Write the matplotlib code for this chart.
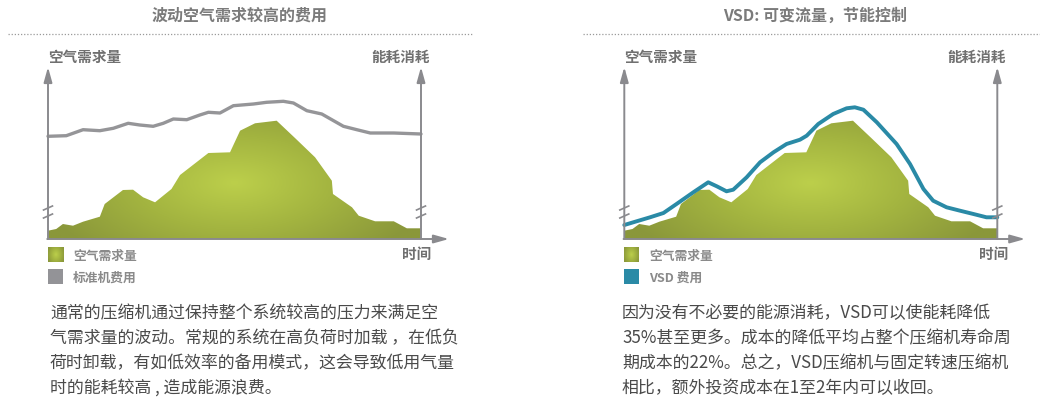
"""Two-panel comparison: fixed-speed vs VSD compressor energy use."""
import matplotlib

matplotlib.use("Agg")
import matplotlib.pyplot as plt
import numpy as np
from matplotlib.colors import LinearSegmentedColormap
from matplotlib.patches import Polygon

plt.rcParams["font.family"] = ["Noto Sans CJK SC", "DejaVu Sans"]

W, H = 1040, 402

# air demand profile (x: 0..100 across the axis, y: height above baseline)
demand_x = [0, 2.2, 4.0, 6.7, 9.4, 13.9, 15.2, 20.1, 22.8, 25.5, 28.7, 33.1, 35.4,
            43.0, 48.8, 51.5, 55.5, 61.3, 66.3, 71.6, 76.1, 76.4, 81.5, 83.3,
            87.7, 92.7, 96.2, 100]
demand_y = [8.3, 10, 15, 13.3, 17.3, 22.3, 35, 49, 49.3, 41.7, 36.7, 50, 64,
            86, 86.7, 108.3, 115.7, 118.3, 100.7, 81.7, 58.3, 45, 31.7, 23.3,
            17.7, 17.7, 10.7, 10.7]

# standard (load/unload) compressor energy
std_x = [0, 4.9, 9.4, 13.9, 17.5, 21.5, 24.6, 28.2, 30.9, 33.6, 37.2, 40.7, 43.0,
         46.1, 49.7, 55.1, 58.6, 63.1, 65.8, 69.4, 73.4, 79.2, 82.8, 86.4, 92.7, 100]
std_y = [102.7, 103.3, 109.3, 108.3, 110.7, 115.7, 114, 112.7, 115.7, 120, 119.3,
         124, 126.7, 126, 133.3, 135, 136.7, 137.7, 136, 128.3, 125, 112.7, 109.3,
         106, 106, 105]

# VSD compressor energy
vsd_x = [0, 3.3, 6.9, 10.5, 14.0, 18.5, 22.5, 24.8, 27.4, 29.2, 32.8, 36.4, 40.0,
         43.5, 47.1, 48.9, 52.0, 56.0, 59.6, 61.8, 64.1, 67.7, 73.0, 76.6, 80.2,
         82.8, 86.4, 90.0, 93.6, 97.1, 100]
vsd_y = [14, 17.7, 21.7, 26, 35, 46.7, 56.7, 52.7, 47.7, 49.3, 61.7, 76.7, 86.7,
         95, 99.3, 103.3, 115, 125, 130.7, 131.7, 129.3, 116.7, 95, 75, 50, 38.3,
         31.7, 28.3, 25, 21.7, 21.7]

titles = ["波动空气需求较高的费用", "VSD: 可变流量，节能控制"]
legend_2 = ["标准机费用", "VSD 费用"]
paragraphs = [
    ["通常的压缩机通过保持整个系统较高的压力来满足空",
     "气需求量的波动。常规的系统在高负荷时加载 ，在低负",
     "荷时卸载，有如低效率的备用模式，这会导致低用气量",
     "时的能耗较高 , 造成能源浪费。"],
    ["因为没有不必要的能源消耗，VSD可以使能耗降低",
     "35%甚至更多。成本的降低平均占整个压缩机寿命周",
     "期成本的22%。总之，VSD压缩机与固定转速压缩机",
     "相比，额外投资成本在1至2年内可以收回。"],
]

AXIS_C = "#8a8a8e"
GREEN = LinearSegmentedColormap.from_list("g", ["#bccf4b", "#a3b440", "#8a973a"])

fig = plt.figure(figsize=(W / 100, H / 100), dpi=100)


def ftext(x, y, s, **kw):
    """Text placed in pixel coords (origin top-left)."""
    fig.text(x / W, 1 - y / H, s, **kw)


def radial(nx=200, ny=120, cx=0.5, cy=0.45):
    xx, yy = np.meshgrid(np.linspace(0, 1, nx), np.linspace(0, 1, ny))
    return np.hypot((xx - cx) * 1.4, (yy - cy) * 1.0)


def panel(x0, line_x, line_y, line_c, line_w):
    sx = 3.73  # px per x unit
    xl, xr = -4, 110
    yb, yt = -6, 178
    left = x0 + xl * sx
    ax = fig.add_axes([left / W, (H - 240 + yb) / H, (xr - xl) * sx / W, (yt - yb) / H])
    ax.set_xlim(xl, xr)
    ax.set_ylim(yb, yt)
    ax.axis("off")

    poly = Polygon(list(zip([0] + demand_x + [100], [0] + demand_y + [0])),
                   closed=True, facecolor="none", edgecolor="none")
    ax.add_patch(poly)
    im = ax.imshow(radial(), cmap=GREEN, extent=(0, 100, 0, 125), origin="lower",
                   aspect="auto", vmin=0, vmax=0.75, zorder=1)
    im.set_clip_path(poly)

    ax.plot(line_x, line_y, color=line_c, lw=line_w, solid_joinstyle="round",
            solid_capstyle="round", zorder=3)

    arrow = dict(arrowstyle="-|>,head_length=0.9,head_width=0.25", color=AXIS_C, lw=1.4,
                 shrinkA=0, shrinkB=0)
    ax.annotate("", xy=(0, 172), xytext=(0, 0), arrowprops=arrow, zorder=4)
    ax.annotate("", xy=(100, 172), xytext=(100, 0), arrowprops=arrow, zorder=4)
    ax.annotate("", xy=(107.5, 0), xytext=(-0.2, 0), arrowprops=arrow, zorder=4)

    # axis break marks
    for xb in (0, 100):
        for yb_ in (23, 31):
            ax.plot([xb - 1.2, xb + 1.2], [yb_ - 2, yb_ + 2], color=AXIS_C, lw=1.2, zorder=5)
    return ax


panel(48, std_x, std_y, "#959598", 2.4)
panel(624.3, vsd_x, vsd_y, "#2a8aa6", 2.8)

# titles and dotted separators
for cx, t, (l, r) in zip([240, 815], titles, [(8, 472), (583, 1040)]):
    ftext(cx, 16, t, ha="center", va="center", fontsize=11.5, style="italic",
          color="#7b7b7b", fontweight="bold")
    fig.add_artist(plt.Line2D([l / W, r / W], [1 - 35 / H] * 2, color="#9a9a9a",
                              lw=0.9, linestyle=(0, (1, 1.5))))

for x0 in (48, 624.3):
    ftext(x0, 57, "空气需求量", ha="left", va="center", fontsize=10.5,
          fontweight="bold", color="#707070")
    ftext(x0 + 382, 57, "能耗消耗", ha="right", va="center", fontsize=10.5,
          fontweight="bold", color="#707070")
    ftext(x0 + 369, 254, "时间", ha="center", va="center", fontsize=10.5,
          fontweight="bold", color="#707070")

# legends
for x0, lab2, c2 in zip((48, 624.3), legend_2, ("#939397", "#2a8aa6")):
    lax = fig.add_axes([x0 / W, 1 - 263 / H, 15 / W, 15 / H])
    lax.imshow(radial(30, 30, 0.5, 0.5), cmap=GREEN, vmin=0, vmax=0.8,
               extent=(0, 1, 0, 1), aspect="auto")
    lax.axis("off")
    fig.add_artist(plt.Rectangle((x0 / W, 1 - 285 / H), 15 / W, 15 / H,
                                 transform=fig.transFigure, color=c2, lw=0))
    ftext(x0 + 25, 256, "空气需求量", ha="left", va="center", fontsize=9.2,
          fontweight="bold", color="#8a8a8a")
    ftext(x0 + 25, 278, lab2, ha="left", va="center", fontsize=9.2,
          fontweight="bold", color="#8a8a8a")

# description paragraphs
for x0, lines in zip((50, 622), paragraphs):
    for i, line in enumerate(lines):
        ftext(x0, 313 + 25 * i, line, ha="left", va="center", fontsize=12.2,
              color="#4a4a4a")

fig.savefig("out.png", dpi=100)
